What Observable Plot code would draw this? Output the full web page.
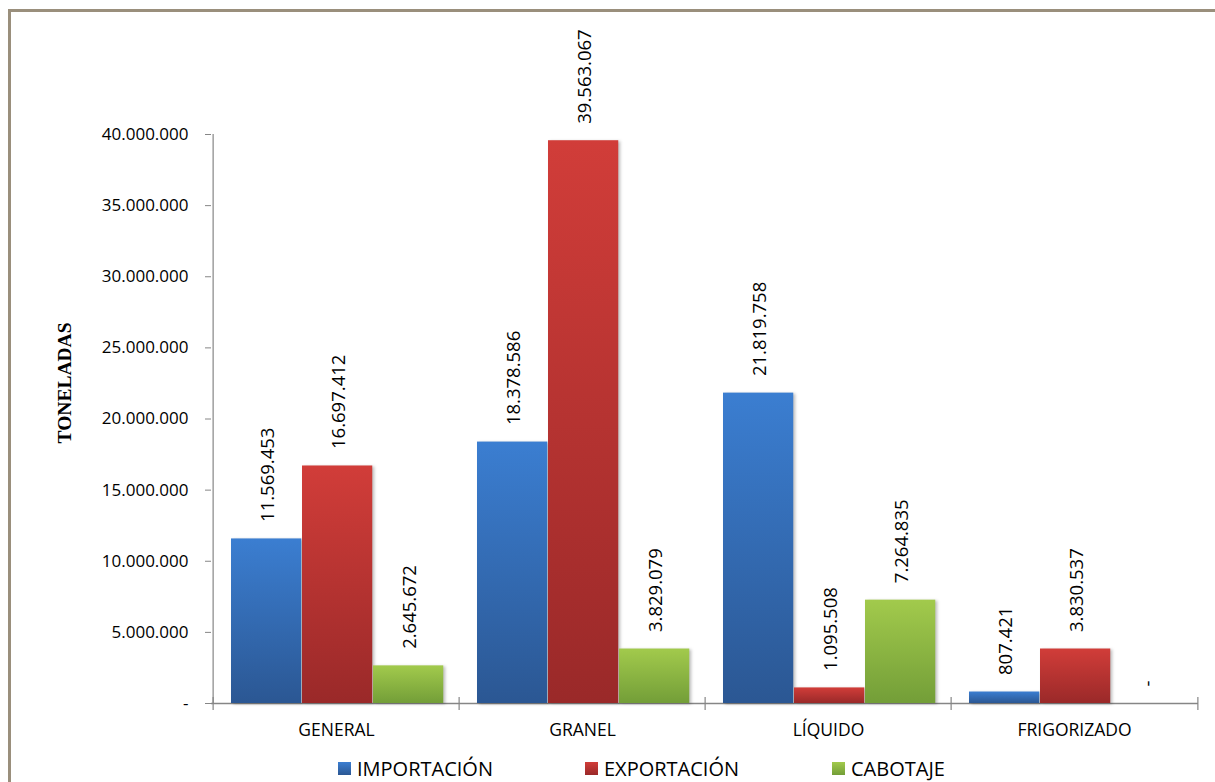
<!DOCTYPE html>
<html>
<head>
<meta charset="utf-8">
<script src="https://cdn.jsdelivr.net/npm/d3@7"></script>
<script src="https://cdn.jsdelivr.net/npm/@observablehq/plot@0.6"></script>
<style>
  html, body { margin: 0; padding: 0; background: #fff; overflow: hidden; }
  #wrap { position: relative; width: 1215px; height: 782px; font-family: "Open Sans", sans-serif; }
  #border { position: absolute; left: 8px; top: 9px; width: 1300px; height: 900px;
            border: 3px solid #9a8f7c; pointer-events: none; box-sizing: border-box; }
  #chart svg { display: block; }
  .barshadow { filter: drop-shadow(2px 1px 1.5px rgba(0,0,0,0.25)); }
  #legend { display: flex; padding-left: 338px; height: 29px; align-items: center; padding-top: 9px; box-sizing: content-box; }
  .item { width: 247px; display: flex; align-items: center; font-size: 20px; line-height: 1.1; color: #000; }
  .sw { width: 13px; height: 13px; margin-right: 6px; }
</style>
</head>
<body>
<div id="wrap">
  <div id="chart"></div>
  <div id="legend"></div>
  <div id="border"></div>
</div>
<script>
// ---- data ----
const categories = ["GENERAL", "GRANEL", "LÍQUIDO", "FRIGORIZADO"];
const series = ["IMPORTACIÓN", "EXPORTACIÓN", "CABOTAJE"];
const importacion = [11569453, 18378586, 21819758, 807421];
const exportacion = [16697412, 39563067, 1095508, 3830537];
const cabotaje = [2645672, 3829079, 7264835, 0];
const yTicks = [0, 5000000, 10000000, 15000000, 20000000, 25000000, 30000000, 35000000, 40000000];
const yTitle = "TONELADAS";

const seriesValues = [importacion, exportacion, cabotaje];
const gradients = [
  ["#3b7ed1", "#2b5793"],
  ["#d13d39", "#9a2929"],
  ["#a2ca4c", "#739e38"]
];

const data = [];
series.forEach((s, k) => categories.forEach((c, i) => data.push({category: c, series: s, k, value: seriesValues[k][i]})));

const locale = d3.formatLocale({decimal: ",", thousands: ".", grouping: [3], currency: ["$", ""]});
const f = locale.format(",d");
const fmt = v => v === 0 ? "-" : f(v);

// ---- layout ----
const W = 1215, H = 745;
const mL = 211, mR = 17, mT = 134, mB = 42;
const band = (W - mL - mR) / categories.length;
const pad = 18, bw = 71;
const gray = "#868686";

const marks = [];
series.forEach((s, k) => {
  const rows = data.filter(d => d.k === k);
  marks.push(Plot.barY(rows, {
    x: "category", y: "value",
    fill: `url(#grad${k})`,
    insetLeft: pad + k * bw,
    insetRight: band - pad - (k + 1) * bw,
    className: "barshadow"
  }));
  marks.push(Plot.text(rows, {
    x: "category", y: "value", text: d => fmt(d.value),
    rotate: -90, textAnchor: "start", lineAnchor: "middle",
    dx: pad + k * bw + bw / 2 - band / 2 + 1, dy: -17,
    fontSize: 18.5, fill: "#000"
  }));
});

const plot = Plot.plot({
  width: W, height: H,
  marginLeft: mL, marginRight: mR, marginTop: mT, marginBottom: mB,
  style: {fontFamily: "Open Sans, sans-serif", background: "transparent", overflow: "visible"},
  x: {domain: categories, padding: 0},
  y: {domain: [0, 40000000]},
  marks: [
    Plot.ruleY([0], {stroke: gray, strokeWidth: 1.5}),
    Plot.ruleX([categories[0]], {x: d => d, y1: 0, y2: 40000000, dx: -band / 2, stroke: gray, strokeWidth: 1.2}),
    Plot.ruleX(categories, {x: d => d, y1: 0, y2: 0, dx: -band / 2, insetTop: -6, insetBottom: -7, stroke: gray, strokeWidth: 1.2}),
    Plot.ruleX([categories[categories.length - 1]], {x: d => d, y1: 0, y2: 0, dx: band / 2, insetTop: -6, insetBottom: -7, stroke: gray, strokeWidth: 1.2}),
    Plot.axisY(yTicks, {tickSize: 6, tickPadding: 17, tickFormat: fmt, fontSize: 17, stroke: gray, fill: "#000", label: null}),
    Plot.axisX({tickSize: 0, tickPadding: 20, fontSize: 17.5, fill: "#000", label: null}),
    Plot.text([yTitle], {frameAnchor: "left", text: d => d, rotate: -90, textAnchor: "middle", dx: -147, dy: -36,
      fontFamily: "Liberation Serif, serif", fontWeight: "bold", fontSize: 19.5, fill: "#000"}),
    ...marks
  ]
});

// gradient definitions
const ns = "http://www.w3.org/2000/svg";
const defs = document.createElementNS(ns, "defs");
gradients.forEach(([top, bottom], k) => {
  const g = document.createElementNS(ns, "linearGradient");
  g.setAttribute("id", `grad${k}`);
  g.setAttribute("x1", "0"); g.setAttribute("y1", "0");
  g.setAttribute("x2", "0"); g.setAttribute("y2", "1");
  [[0, top], [1, bottom]].forEach(([o, c]) => {
    const st = document.createElementNS(ns, "stop");
    st.setAttribute("offset", o);
    st.setAttribute("stop-color", c);
    g.appendChild(st);
  });
  defs.appendChild(g);
});
plot.insertBefore(defs, plot.firstChild);
document.getElementById("chart").appendChild(plot);

// legend
const legend = document.getElementById("legend");
series.forEach((s, k) => {
  const item = document.createElement("div");
  item.className = "item";
  const sw = document.createElement("span");
  sw.className = "sw";
  sw.style.background = `linear-gradient(${gradients[k][0]}, ${gradients[k][1]})`;
  const t = document.createElement("span");
  t.textContent = s;
  item.appendChild(sw); item.appendChild(t);
  legend.appendChild(item);
});
</script>
</body>
</html>
